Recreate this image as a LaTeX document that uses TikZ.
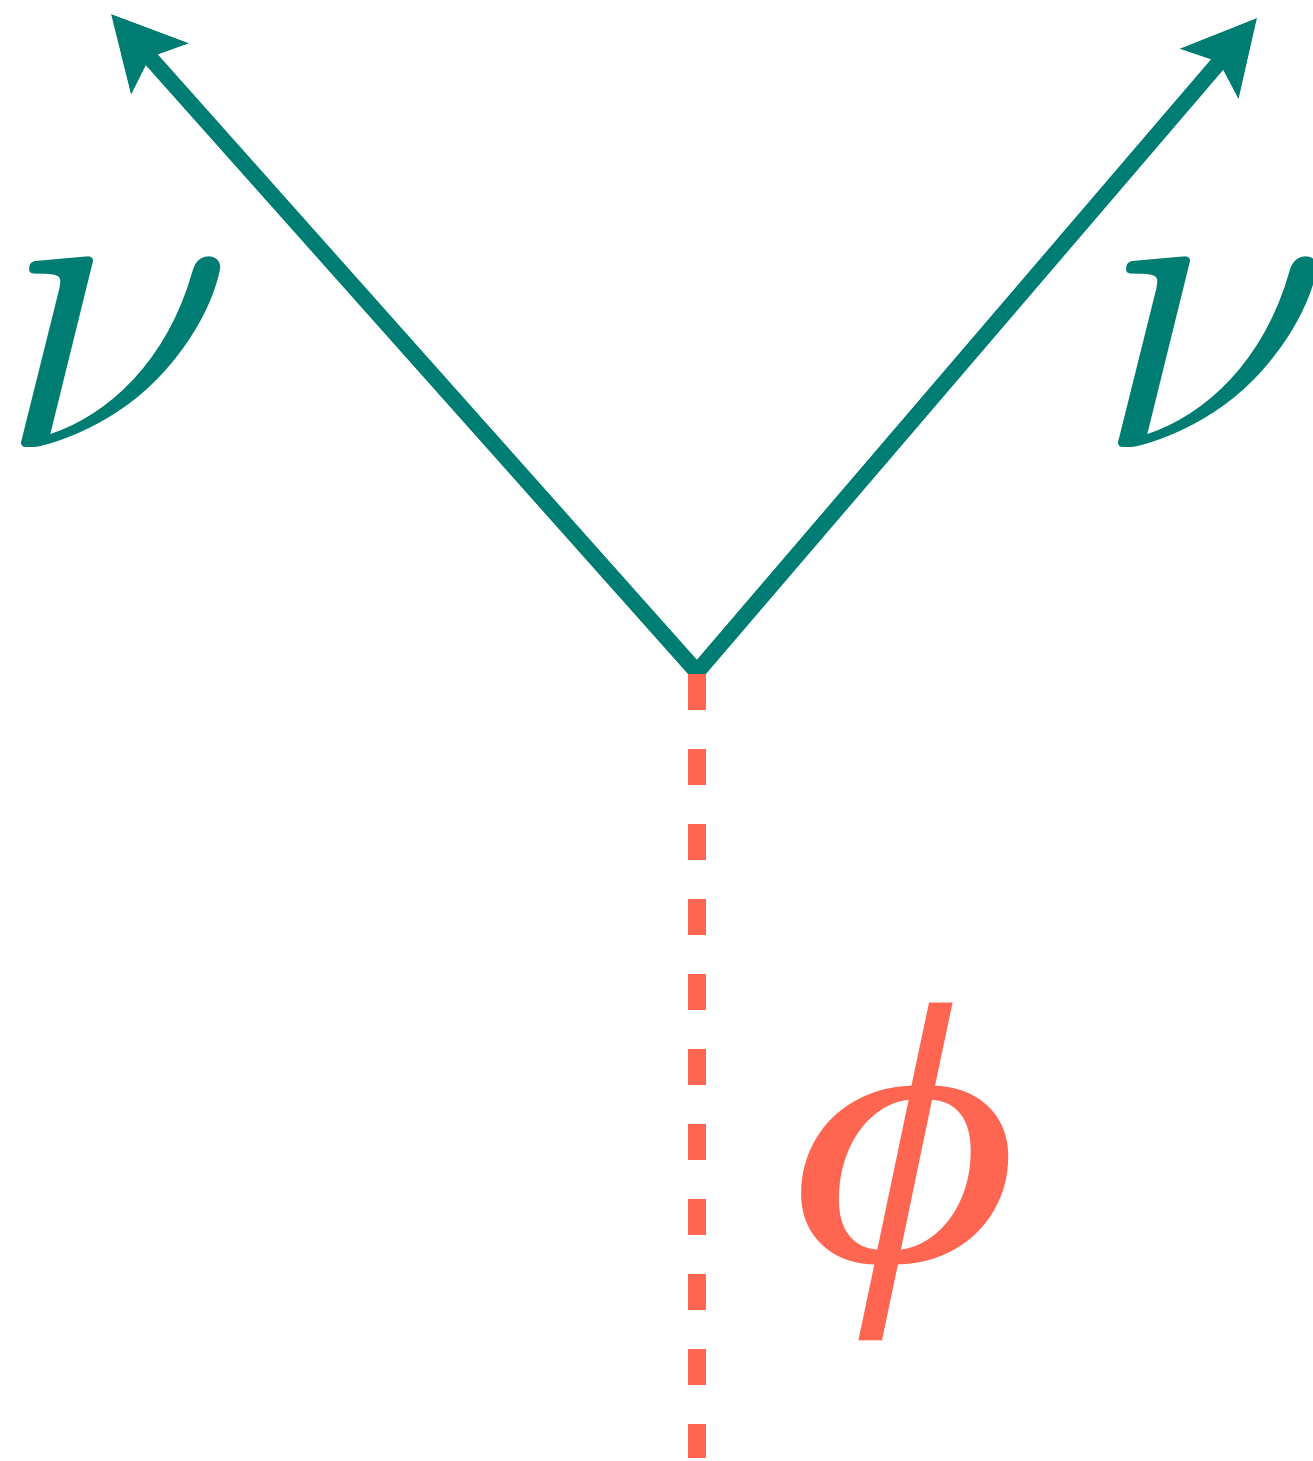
\documentclass[tikz,border=0pt]{standalone}
\usepackage{fix-cm}
\usepackage{fontspec}
\newfontfamily\phifont{Liberation Serif}
\usepackage{tikz}
\usetikzlibrary{arrows.meta}
\usepackage{xcolor}
\definecolor{nuTeal}{RGB}{0, 125, 115}
\definecolor{phiCoral}{RGB}{255, 102, 82}

\begin{document}
\begin{tikzpicture}[>={Stealth[length=0.72cm, width=0.74cm, inset=0.14cm]},
    fermion/.style={line width=0.16cm, nuTeal, line join=miter},
    scalar/.style={line width=0.18cm, phiCoral, dash pattern=on 0.36cm off 0.39cm},
    nulab/.style={nuTeal, inner sep=0pt, font=\fontsize{123}{123}\selectfont},
    philab/.style={phiCoral, inner sep=0pt, xscale=1.18, transform shape,
      font=\fontsize{106}{106}\selectfont\phifont\itshape}]
  \useasboundingbox (0,0) rectangle (13.12,-14.61);

  \coordinate (vtx) at (6.97,-6.72);
  \coordinate (nuL) at (1.11,-0.14);
  \coordinate (nuR) at (12.57,-0.18);
  \coordinate (phiTop) at (6.97,-6.74);
  \coordinate (phiEnd) at (6.97,-14.58);

  % neutrino pair
  \draw[fermion, <->] (nuL) -- (vtx) -- (nuR);

  % scalar line
  \draw[scalar] (phiTop) -- (phiEnd);

  \node[nulab] (nuLlab) at (1.17,-3.54) {$\nu$};
  \node[nulab] (nuRlab) at (12.14,-3.54) {$\nu$};
  \node[philab] (philab) at (9.05,-11.72) {ϕ};
\end{tikzpicture}
\end{document}
